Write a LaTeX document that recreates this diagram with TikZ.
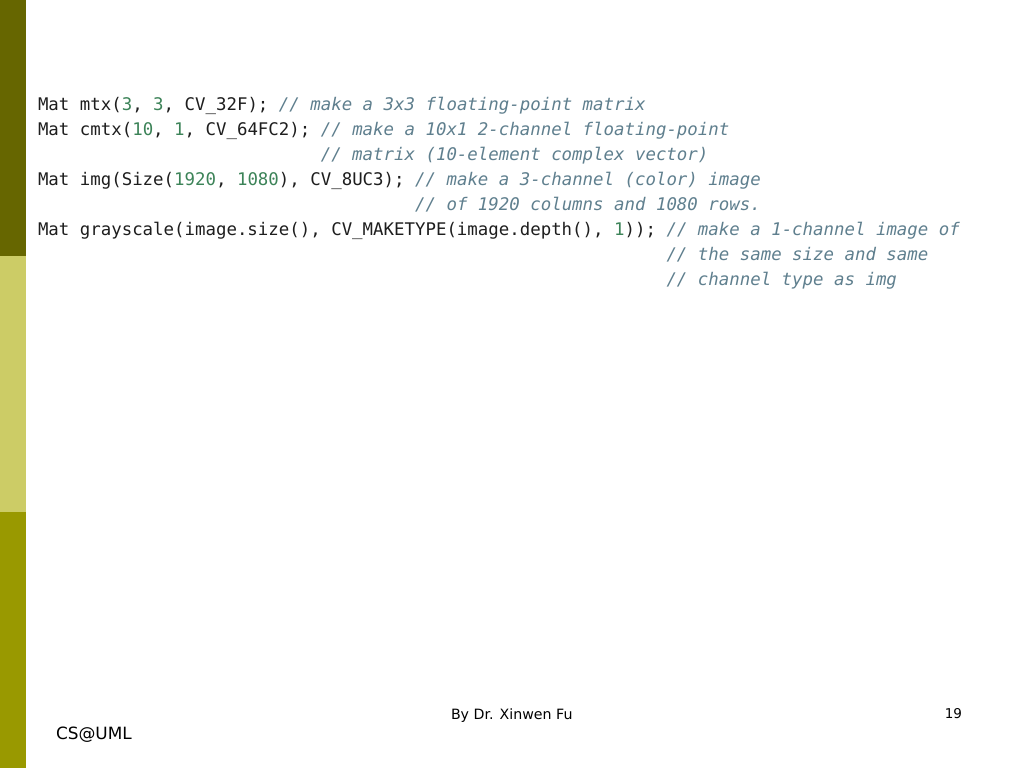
\documentclass[tikz,border=0pt]{standalone}
\usepackage{fontspec}
\setmainfont{DejaVu Sans}
\newfontfamily\codefont{DejaVu Sans Mono}
\newfontfamily\footfont{DejaVu Sans}
\definecolor{barA}{HTML}{666600}
\definecolor{barB}{HTML}{CCCC66}
\definecolor{barC}{HTML}{999900}
\definecolor{codetxt}{HTML}{1E1E1E}
\definecolor{codenum}{HTML}{3C8358}
\definecolor{codecmt}{HTML}{5F7F8E}
\newcommand\gn[1]{\textcolor{codenum}{#1}}
\newcommand\cm[1]{\textcolor{codecmt}{\itshape #1}}
\tikzset{
  codeline/.style={anchor=base west, inner sep=0pt, outer sep=0pt, text=codetxt,
    font=\codefont\fontsize{17.4}{20}\selectfont},
  foot/.style={inner sep=0pt, outer sep=0pt, text=black,
    font=\footfont\fontsize{14.2}{17}\selectfont},
  footnum/.style={foot, font=\footfont\fontsize{13.5}{16}\selectfont},
  footbig/.style={foot, font=\footfont\fontsize{16.9}{20}\selectfont}
}
\begin{document}
\begin{tikzpicture}[x=1pt,y=-1pt]
\useasboundingbox[fill=white] (0,0) rectangle (1024,768);
% left bars
\fill[barA] (0,0) rectangle (25.5,256);
\fill[barB] (0,256) rectangle (25.5,512);
\fill[barC] (0,512) rectangle (25.5,768);
% code lines
\node[codeline] (l1) at (38,110) {Mat mtx(\gn{3}, \gn{3}, CV\_32F); \cm{// make a 3x3 floating-point matrix}};
\node[codeline] (l2) at (38,135.1) {Mat cmtx(\gn{10}, \gn{1}, CV\_64FC2); \cm{// make a 10x1 2-channel floating-point}};
\node[codeline] (l3) at (320.8,160.2) {\cm{// matrix (10-element complex vector)}};
\node[codeline] (l4) at (38,185.3) {Mat img(Size(\gn{1920}, \gn{1080}), CV\_8UC3); \cm{// make a 3-channel (color) image}};
\node[codeline] (l5) at (415.1,210.4) {\cm{// of 1920 columns and 1080 rows.}};
\node[codeline] (l6) at (38,235.5) {Mat grayscale(image.size(), CV\_MAKETYPE(image.depth(), \gn{1})); \cm{// make a 1-channel image of}};
\node[codeline] (l7) at (666.5,260.6) {\cm{// the same size and same}};
\node[codeline] (l8) at (666.5,285.7) {\cm{// channel type as img}};
% footer
\node[foot, anchor=base west] (author) at (451,719.3) {By Dr. Xinwen Fu};
\node[footnum, anchor=base east] (page) at (962,718.5) {19};
\node[footbig, anchor=base west] (org) at (56,739) {CS@UML};
\end{tikzpicture}
\end{document}
